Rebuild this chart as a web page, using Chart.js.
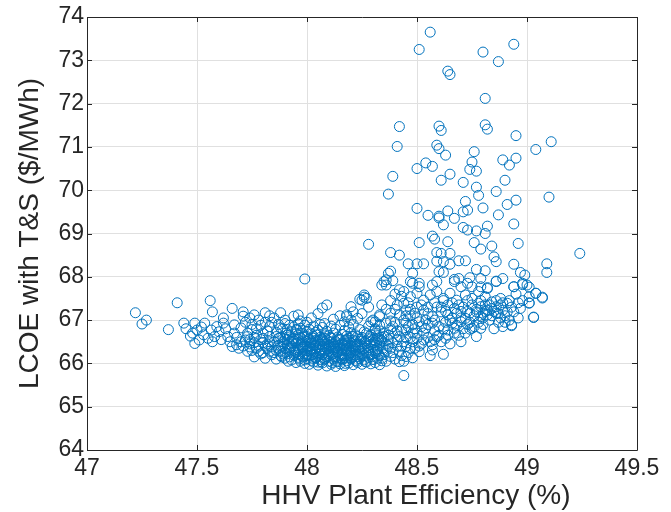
<!DOCTYPE html>
<html><head><meta charset="utf-8">
<script src="https://cdn.jsdelivr.net/npm/chart.js@4/dist/chart.umd.min.js"></script>
<style>html,body{margin:0;padding:0;background:#fff}#wrap{width:671px;height:512px}</style>
</head><body><div id="wrap"><canvas id="c" width="671" height="512"></canvas></div>
<script>
const xTickLabels = ['47','47.5','48','48.5','49','49.5'];
const yTickLabels = ['64','65','66','67','68','69','70','71','72','73','74'];
const xTitle = 'HHV Plant Efficiency (%)';
const yTitle = 'LCOE with T&S ($/MWh)';

// [efficiency %, LCOE $/MWh]
const tailPoints = [
[47.22,67.17],[47.25,66.91],[47.27,67.00],[47.37,66.78],[47.41,67.40],[47.44,66.93],[47.45,66.80],[47.47,66.63],[47.49,66.93],[47.50,66.77],[47.49,66.46],[47.51,66.54],[47.53,66.66],[47.535,66.93],[47.56,67.45],[47.57,67.19],[47.565,66.77],[47.58,66.62],[47.60,66.73],[47.62,66.93],[47.64,66.62],[47.66,67.27],[47.67,66.89],[47.66,66.39],[47.68,66.43],[47.70,66.50],[47.69,66.35],[47.72,66.54],[47.71,67.09],[47.71,67.19],[47.76,67.12],[47.81,67.17],[47.88,67.17],[47.96,67.12],
[47.73,66.70],[47.74,66.45],[47.75,66.90],[47.75,66.30],[47.76,66.60],[47.77,66.80],[47.78,66.40],[47.78,67.00],[47.79,66.55],[47.80,66.25],[47.80,66.70],[47.81,66.95],[47.82,66.45],[47.82,66.35],[47.83,66.62],[47.83,66.85],[47.84,66.20],[47.85,66.50],[47.85,67.05],[47.86,66.72],[47.86,66.30],[47.87,66.90],[47.87,66.42],[47.88,66.60],[47.88,66.18],[47.89,66.80],[47.89,66.50],[47.90,66.35],[47.90,67.00],[47.91,66.65],[47.91,66.22],[47.92,66.88],[47.92,66.45],
[47.76,66.15],[47.79,66.22],[47.81,66.12],[47.84,66.38],[47.86,66.10],[47.88,66.28],[47.90,66.12],[47.91,66.55],[47.89,66.40],[47.87,66.58],[47.83,66.28],[47.80,66.48],[47.77,66.35],[47.74,66.55],[47.73,66.28],
[47.48,66.70],[47.52,66.84],[47.55,66.58],[47.57,66.50],[47.59,66.85],[47.61,66.55],[47.63,66.80],[47.65,66.50],[47.67,66.70],[47.68,66.60],[47.70,66.82],[47.71,66.40],[47.72,66.95],[47.73,66.62],[47.74,66.38],[47.75,66.78],[47.76,66.48],[47.77,66.65],[47.78,66.28],[47.79,66.88],[47.80,66.58],[47.81,66.40],[47.82,66.75],[47.83,66.50],[47.84,66.95],[47.85,66.25],[47.86,66.62],[47.87,66.35],[47.88,66.82],[47.89,66.22],[47.90,66.55],[47.91,66.78],[47.92,66.35],[47.62,67.05],[47.74,67.05],[47.83,67.10],[47.90,66.92]
];

const clusterPoints = [
[47.93,66.08],[47.94,66.19],[47.92,66.31],[47.93,66.40],[47.94,66.52],[47.92,66.61],[47.93,66.73],[47.94,66.84],
[47.95,66.02],[47.96,66.14],[47.95,66.26],[47.96,66.35],[47.95,66.47],[47.94,66.58],[47.96,66.66],[47.95,66.78],[47.96,66.92],
[47.97,66.05],[47.98,66.17],[47.97,66.22],[47.98,66.38],[47.97,66.44],[47.96,66.55],[47.98,66.69],[47.97,66.81],
[47.99,66.00],[48.00,66.11],[47.99,66.24],[47.98,66.33],[47.99,66.43],[48.00,66.50],[47.99,66.63],[48.00,66.74],[47.99,66.88],
[48.01,65.98],[48.02,66.07],[48.01,66.18],[48.00,66.29],[48.01,66.37],[48.02,66.46],[48.01,66.57],[48.02,66.68],[48.01,66.79],[48.00,66.95],
[48.03,66.03],[48.04,66.13],[48.03,66.21],[48.02,66.32],[48.03,66.41],[48.04,66.53],[48.03,66.62],[48.04,66.72],[48.03,66.85],
[48.05,65.96],[48.06,66.09],[48.05,66.16],[48.04,66.27],[48.05,66.36],[48.06,66.44],[48.05,66.51],[48.06,66.60],[48.05,66.77],[48.06,66.90],
[48.07,66.01],[48.08,66.12],[48.07,66.20],[48.06,66.30],[48.07,66.39],[48.08,66.48],[48.07,66.56],[48.08,66.66],[48.07,66.83],
[48.09,65.94],[48.10,66.05],[48.09,66.15],[48.08,66.25],[48.09,66.34],[48.10,66.42],[48.09,66.54],[48.10,66.64],[48.09,66.74],[48.08,66.92],
[48.11,65.98],[48.12,66.10],[48.11,66.19],[48.10,66.28],[48.11,66.37],[48.12,66.45],[48.11,66.58],[48.12,66.70],[48.11,66.86],
[48.13,65.93],[48.14,66.04],[48.13,66.14],[48.12,66.23],[48.13,66.33],[48.14,66.41],[48.13,66.50],[48.14,66.61],[48.13,66.79],
[48.15,65.99],[48.16,66.08],[48.15,66.17],[48.14,66.26],[48.15,66.36],[48.16,66.47],[48.15,66.55],[48.16,66.67],[48.15,66.88],
[48.17,65.95],[48.18,66.06],[48.17,66.12],[48.16,66.22],[48.17,66.31],[48.18,66.40],[48.17,66.52],[48.18,66.63],[48.17,66.76],
[48.19,66.01],[48.20,66.10],[48.19,66.18],[48.18,66.29],[48.19,66.38],[48.20,66.46],[48.19,66.59],[48.20,66.71],[48.19,66.84],
[48.21,65.97],[48.22,66.07],[48.21,66.15],[48.20,66.25],[48.21,66.35],[48.22,66.44],[48.21,66.54],[48.22,66.66],[48.21,66.90],
[48.23,66.02],[48.24,66.11],[48.23,66.21],[48.22,66.32],[48.23,66.42],[48.24,66.51],[48.23,66.62],[48.24,66.78],
[48.25,65.98],[48.26,66.08],[48.25,66.17],[48.24,66.28],[48.25,66.39],[48.26,66.49],[48.25,66.60],[48.26,66.73],
[48.27,66.03],[48.28,66.14],[48.27,66.24],[48.26,66.35],[48.27,66.46],[48.28,66.57],[48.27,66.69],[48.28,66.86],
[48.29,65.99],[48.30,66.09],[48.29,66.20],[48.28,66.31],[48.29,66.43],[48.30,66.55],[48.29,66.66],
[48.31,66.02],[48.32,66.12],[48.31,66.25],[48.30,66.38],[48.31,66.52],[48.32,66.64],[48.31,66.80],
[48.33,65.97],[48.34,66.06],[48.33,66.18],[48.32,66.33],[48.33,66.47],[48.34,66.60],[48.33,66.75],
[48.00,66.20],[48.00,66.40],[48.02,66.26],[48.02,66.50],[48.04,66.12],[48.04,66.35],[48.06,66.24],[48.06,66.43],[48.08,66.09],[48.08,66.30],[48.10,66.22],[48.10,66.40],[48.12,66.16],[48.12,66.32],[48.14,66.27],[48.14,66.45],[48.16,66.11],[48.16,66.30],[48.18,66.20],[48.18,66.35],[48.20,66.13],[48.20,66.28],[48.22,66.19],[48.22,66.38],[47.96,66.30],[47.96,66.48],[47.98,66.15],[47.98,66.36],
[47.885,66.15],[47.895,66.45],[47.905,66.70],[47.915,66.05],[47.925,66.36],[47.935,66.56],[47.945,66.25],[47.955,66.78],[47.965,66.10],[47.975,66.42],[47.985,66.60],[47.995,66.18],[48.005,66.55],[48.015,66.33],[48.025,66.12],[48.035,66.47],[48.045,66.66],[48.055,66.22],[48.065,66.04],[48.075,66.52],[48.085,66.38],[48.095,66.19],[48.105,66.60],[48.115,66.02],[48.125,66.40],[48.135,66.27],[48.145,66.56],[48.155,66.12],[48.165,66.43],[48.175,66.00],[48.185,66.47],[48.195,66.24],[48.205,66.62],[48.215,66.40],[48.225,66.05],[48.235,66.36],[48.245,66.56],[48.255,66.22],[48.265,66.04],[48.275,66.40],[48.285,66.62],[48.295,66.15],[48.305,66.48],[48.315,66.70],[48.325,66.22],[48.335,66.55],[48.345,66.35],
[47.89,66.62],[47.90,66.25],[47.91,66.42],[47.92,66.15],[47.93,66.48],[47.94,66.30],[47.95,66.68],[47.96,66.20],[47.97,66.60],[47.98,66.50],[47.99,66.08],[48.00,66.62],[48.01,66.48],[48.02,66.20],[48.03,66.58],[48.04,66.42],[48.05,66.03],[48.06,66.53],[48.07,66.33],[48.08,66.58],[48.09,66.46],[48.10,66.34],[48.11,66.50],[48.12,66.36],[48.13,66.05],[48.14,66.54],[48.15,66.42],[48.16,66.20],[48.17,66.45],[48.18,66.55],[48.19,66.30],[48.20,66.40],[48.21,66.62],[48.22,66.50],[48.23,66.16],[48.24,66.44],[48.25,66.33],[48.26,66.18],[48.27,66.52],[48.28,66.25],[48.29,66.50],[48.30,66.22],[48.31,66.42],[48.32,66.28],[48.33,66.40],[48.34,66.52],[48.35,66.62],[48.36,66.30],
[48.02,67.05],[48.05,67.15],[48.12,67.02],[48.15,67.10],[48.18,67.08],[48.17,66.96],[48.23,67.04],[48.26,67.58],[48.24,67.48],[48.27,67.50],[48.30,67.00],[48.33,67.12],[48.31,66.77],[47.94,67.09],[47.97,66.98],[48.28,67.30],[48.25,67.15],[48.20,67.00],
[48.07,67.28],[48.09,67.35],[48.20,67.31],[48.18,67.12],[48.21,67.19]
];

const bandPoints = [
[48.48,67.85],[48.51,67.77],[48.57,67.81],[48.59,67.89],[48.67,67.89],[48.70,67.77],[48.73,67.85],[48.75,67.77],[48.79,67.77],[48.82,67.73],[48.86,67.89],[48.94,67.77],[48.98,67.85],[49.00,67.81],[49.04,67.62],
[48.44,67.66],[48.47,67.54],[48.50,67.62],[48.53,67.46],[48.56,67.58],[48.59,67.66],[48.62,67.50],[48.65,67.62],[48.68,67.46],[48.72,67.58],[48.75,67.50],[48.78,67.66],[48.81,67.54],[48.84,67.42],[48.88,67.50],[48.91,67.39],[48.64,67.35],[48.67,67.27],
[48.78,67.39],[48.79,67.31],[48.81,67.35],[48.82,67.23],[48.77,67.19],[48.80,67.16],[48.84,67.27],[48.86,67.31],[48.89,67.23],[48.86,67.16],[48.82,67.12],[48.79,67.08],[48.88,67.35],[48.91,67.19],
[48.45,67.23],[48.49,67.16],[48.53,67.23],[48.57,67.08],[48.61,67.19],[48.64,67.12],[48.68,67.16],[48.72,67.04],[48.74,67.16],[48.44,67.00],[48.51,66.96],[48.57,66.93],[48.66,66.93],[48.70,66.96],
[48.45,66.77],[48.50,66.70],[48.54,66.81],[48.59,66.62],[48.64,66.77],[48.67,66.81],[48.74,66.79],[48.48,66.50],[48.53,66.54],[48.57,66.43],[48.61,66.50],[48.45,66.39],
[48.48,66.13],[48.57,66.31],[48.45,66.16],[48.51,66.27],
[48.93,66.89],[49.03,67.07],[49.07,67.53],[49.01,67.40],[48.94,67.19],[48.97,67.27],
[48.26,67.53],[48.25,67.46],[48.29,66.96],[48.31,66.96],[48.33,67.08],[48.36,66.93],[48.38,67.16],[48.41,67.35],[48.44,67.39],[48.42,67.12],[48.45,66.93],[48.40,66.70],[48.38,66.16],[48.42,66.04],
[48.35,66.20],[48.36,66.45],[48.37,66.65],[48.38,66.35],[48.39,66.85],[48.40,66.10],[48.41,66.55],[48.42,66.28],[48.43,66.75],[48.44,66.05],[48.36,67.25],[48.38,67.45],[48.40,67.60],[48.42,67.70],[48.34,67.35],[48.46,67.40],[48.47,66.60],[48.48,66.90],[48.50,67.05],[48.52,66.45],[48.55,67.30],[48.58,67.00],[48.60,66.85],[48.62,67.45],[48.64,66.65],[48.66,67.05],[48.70,67.20],[48.72,66.70],[48.75,67.35],[48.78,66.95],[48.83,67.00],[48.85,66.80],[48.88,67.05],[48.90,66.95],[48.92,67.45],[48.95,67.60],
[48.31,66.30],[48.32,66.58],[48.33,66.88],[48.34,66.12],[48.35,66.70],[48.36,66.05],[48.37,66.40],[48.38,66.80],[48.39,66.25],[48.40,66.95],[48.41,66.40],[48.42,66.62],[48.43,66.18],[48.44,66.50],[48.46,66.25],[48.46,66.85],[48.47,67.10],[48.49,66.35],[48.50,66.58],[48.52,66.85],[48.55,66.60],[48.56,66.18],[48.58,66.75],[48.59,67.30],[48.63,66.95],[48.65,66.45],[48.66,67.40],[48.69,66.65],[48.71,67.30],[48.73,66.90],[48.76,67.10],[48.77,66.62],[48.80,66.90],[48.84,67.10],[48.87,66.95],[48.89,66.85],[48.92,67.00],[48.96,67.05],[48.98,67.45],
[48.37,66.55],[48.39,66.48],[48.41,66.75],[48.43,66.40],[48.45,66.60],[48.47,66.35],[48.49,66.80],[48.51,66.40],[48.53,66.70],[48.55,66.90],[48.56,66.50],[48.58,66.55],[48.60,66.65],[48.62,66.80],[48.63,66.58],[48.65,67.00],[48.67,66.70],[48.68,66.88],[48.70,67.05],[48.71,66.80],[48.73,67.20],[48.74,66.95],[48.76,66.85],[48.77,67.25],[48.79,67.45],[48.80,67.05],[48.81,67.20],[48.83,67.35],[48.85,67.20],[48.86,67.45],[48.87,67.15],[48.89,67.40],[48.90,67.10],[48.93,67.30],[48.96,67.40],[48.52,67.35],[48.55,67.15],[48.58,67.40],[48.61,67.30],[48.63,67.20],[48.69,67.35],[48.73,67.45],[48.47,67.25],[48.50,67.30],[48.43,67.55],[48.40,67.25],[48.38,66.98],[48.45,67.10],[48.48,66.70],[48.54,67.00]
];

const outlierPoints = [
[48.56,73.65],[48.51,73.25],[48.94,73.37],[48.80,73.19],[48.87,72.97],[48.64,72.75],[48.65,72.67],[48.81,72.12],[48.42,71.47],[48.60,71.48],[48.61,71.38],[48.81,71.51],[48.82,71.41],[48.95,71.26],[48.41,71.01],[48.59,71.04],[48.60,70.96],[48.63,70.81],[48.76,70.89],[49.04,70.94],[49.11,71.12],[48.54,70.63],[48.50,70.50],[48.57,70.55],[48.75,70.65],[48.74,70.48],[48.77,70.44],[48.89,70.70],[48.92,70.58],[48.95,70.74],[48.39,70.32],[48.61,70.23],[48.65,70.37],[48.71,70.18],[48.90,70.23],[48.37,69.91],[48.77,70.07],[48.78,69.88],[48.86,69.97],[49.10,69.84],[48.72,69.74],[48.50,69.58],[48.80,69.59],[48.91,69.67],[48.95,69.77],[48.71,69.50],[48.73,69.54],[48.55,69.42],[48.60,69.40],[48.64,69.52],[48.87,69.43],
[48.60,69.36],[48.62,69.20],[48.67,69.35],[48.71,69.14],[48.73,69.08],[48.77,69.06],[48.82,69.17],[48.81,69.00],[48.94,69.22],[48.51,68.79],[48.57,68.94],[48.58,68.87],[48.64,68.81],[48.76,68.79],[48.79,68.64],[48.84,68.71],[48.96,68.77],[49.24,68.54],[48.38,68.56],[48.42,68.50],[48.46,68.30],[48.50,68.30],[48.53,68.30],[48.59,68.56],[48.61,68.54],[48.65,68.54],[48.59,68.36],[48.62,68.35],[48.65,68.29],[48.69,68.37],[48.72,68.37],[48.85,68.46],[48.86,68.35],[48.94,68.29],[49.09,68.30],[49.09,68.10],[48.97,68.10],[48.99,68.04],[48.77,68.17],[48.81,68.14],[48.38,68.13],[48.36,67.93],[48.34,67.81],[48.48,68.08],[48.47,67.89],[48.51,67.85],[48.60,68.12],[48.62,68.10],[48.67,67.94],[48.69,67.96],[48.74,67.98],[48.79,67.96],[48.82,67.75],[48.86,67.90],[48.89,67.96],[48.94,67.77],[48.98,67.82],[49.01,67.76],[49.01,67.54],[49.04,67.62],[49.07,67.51],[49.01,67.39],[49.03,67.06],[48.93,66.87],[48.75,66.81],[48.79,66.81],[48.70,66.50],[48.62,66.21],[48.44,65.72],
[47.99,67.95],[48.35,67.89],[48.37,68.08],[48.39,67.91],[48.36,67.81],[48.28,68.75]
];

const allPoints = [].concat(tailPoints, clusterPoints, bandPoints, outlierPoints);

const axisColor = '#262626';
const fontFam = "'Liberation Sans', Arial, Helvetica, sans-serif";

const boxPlugin = {
  id: 'box',
  afterDatasetsDraw(chart) {
    const {ctx, chartArea: a, scales: {x, y}} = chart;
    const r = v => Math.round(v) + 0.5;
    ctx.save();
    ctx.strokeStyle = axisColor;
    ctx.lineWidth = 1;
    ctx.beginPath();
    ctx.rect(r(a.left), r(a.top), Math.round(a.right) - Math.round(a.left), Math.round(a.bottom) - Math.round(a.top));
    const tl = 5;
    x.ticks.forEach(t => {
      const px = r(x.getPixelForValue(t.value));
      ctx.moveTo(px, a.bottom); ctx.lineTo(px, a.bottom - tl);
      ctx.moveTo(px, a.top); ctx.lineTo(px, a.top + tl);
    });
    y.ticks.forEach(t => {
      const py = r(y.getPixelForValue(t.value));
      ctx.moveTo(a.left, py); ctx.lineTo(a.left + tl, py);
      ctx.moveTo(a.right, py); ctx.lineTo(a.right - tl, py);
    });
    ctx.stroke();
    // x-axis title (placed right of centre, as in the reference)
    ctx.fillStyle = axisColor;
    ctx.font = "28px " + fontFam;
    ctx.textAlign = 'center';
    ctx.textBaseline = 'middle';
    ctx.fillText(xTitle, a.left + 0.598 * (a.right - a.left), 496);
    ctx.restore();
  }
};

new Chart(document.getElementById('c'), {
  type: 'scatter',
  data: { datasets: [{
    label: yTitle,
    data: allPoints.map(p => ({x: p[0], y: p[1]})),
    pointStyle: 'circle',
    pointRadius: 5,
    pointHoverRadius: 5,
    borderColor: '#0072BD',
    backgroundColor: 'rgba(0,0,0,0)',
    borderWidth: 1
  }]},
  options: {
    responsive: false,
    animation: false,
    devicePixelRatio: 1,
    events: [],
    layout: { padding: { left: 0, right: 34, top: 17, bottom: 0 } },
    plugins: { legend: { display: false }, tooltip: { enabled: false } },
    scales: {
      x: {
        type: 'linear', min: 47, max: 49.5,
        afterFit: s => { s.height = 62; },
        grid: { color: '#e0e0e0', drawTicks: false },
        border: { display: false },
        ticks: { stepSize: 0.5, padding: 5, color: axisColor, maxRotation: 0,
          font: { family: fontFam, size: 23 },
          callback: (v, i) => xTickLabels[i] },
        title: { display: false, text: xTitle }
      },
      y: {
        type: 'linear', min: 64, max: 74,
        afterFit: s => { s.width = 87; },
        grid: { color: '#e0e0e0', drawTicks: false },
        border: { display: false },
        ticks: { stepSize: 1, padding: 3, color: axisColor,
          font: { family: fontFam, size: 23 },
          callback: (v, i) => yTickLabels[i] },
        title: { display: true, text: yTitle, color: axisColor,
          font: { family: fontFam, size: 28 }, padding: { top: 13, bottom: 0 } }
      }
    }
  },
  plugins: [boxPlugin]
});
</script>
</body></html>
